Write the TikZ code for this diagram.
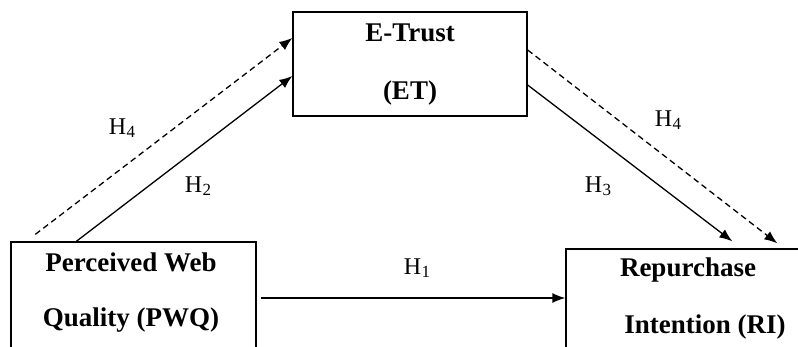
\documentclass[tikz,border=0pt]{standalone}
\usepackage{fontspec}
\setmainfont{Liberation Serif}
\usetikzlibrary{arrows.meta,calc}
% hypothesis label: H with a lowered index
\newcommand\hyplabel[1]{H\kern0.5pt\raisebox{-3.5pt}{\fontsize{17}{17}\selectfont #1}}
\begin{document}
\begin{tikzpicture}[x=1pt,y=-1pt,
  box/.style={draw,line width=1.3pt,rectangle,inner sep=0pt},
  boxtext/.style={font=\fontsize{27}{30}\bfseries\selectfont,inner sep=0pt,anchor=center},
  hyp/.style={font=\fontsize{24}{26}\selectfont,inner sep=0pt},
  link/.style={line width=1.3pt,-{Latex[length=13pt,width=10pt]}},
  dlink/.style={link,dash pattern=on 6pt off 4pt}]
\useasboundingbox (0,0) rectangle (798,347);
\begin{scope}
\clip (0,0) rectangle (798,347);
% construct boxes
\node[box,minimum width=234pt,minimum height=104pt] (et) at (410,64) {};
\node[box,minimum width=245pt,minimum height=128pt] (pwq) at (133.5,306) {};
\node[box,minimum width=254pt,minimum height=121pt] (ri) at (693,309.5) {};
\end{scope}
% box labels
\node[boxtext] (et1) at (410,33) {E-Trust};
\node[boxtext] (et2) at (410,93) {(ET)};
\node[boxtext] (pwq1) at (131,262) {Perceived Web};
\node[boxtext] (pwq2) at (131,320) {Quality (PWQ)};
\node[boxtext] (ri1) at (688,270) {Repurchase};
\node[boxtext] (ri2) at (705,327) {Intention (RI)};
% paths between constructs
\draw[link] ($(pwq.north west)+(66,0)$) -- ($(et.west)+(0,12)$);
\draw[dlink] ($(pwq.north west)+(25,-7)$) -- ($(et.west)+(0,-26)$);
\draw[link] ($(et.east)+(0,21)$) -- ($(ri.north west)+(167,-7)$);
\draw[dlink] ($(et.east)+(0,-14)$) -- ($(ri.north west)+(212,-5)$);
\coordinate (h1s) at ($(pwq.east)+(4,-8)$);
\draw[link] (h1s) -- (h1s -| ri.west);
% hypothesis labels
\node[hyp] (lh4a) at (122,128) {\hyplabel{4}};
\node[hyp] (lh2) at (198,186) {\hyplabel{2}};
\node[hyp] (lh3) at (598,186) {\hyplabel{3}};
\node[hyp] (lh4b) at (668,120) {\hyplabel{4}};
\node[hyp] (lh1) at (417,268) {\hyplabel{1}};
\end{tikzpicture}
\end{document}
